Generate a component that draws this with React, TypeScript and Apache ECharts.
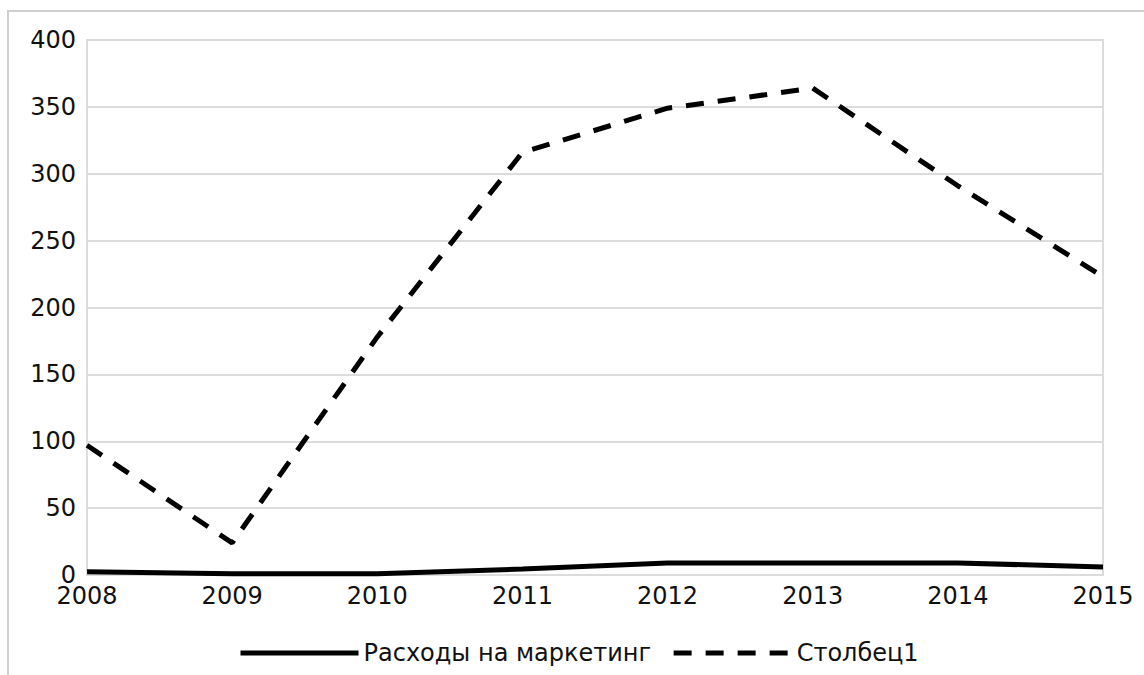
import React, { useEffect, useRef } from "react";
import * as echarts from "echarts";

const years = ["2008", "2009", "2010", "2011", "2012", "2013", "2014", "2015"];
const marketing = [2.5, 1, 1, 4.5, 9, 9, 9, 6];
const column1 = [97, 24, 178, 316, 349, 364, 291, 223];
const seriesNames = ["Расходы на маркетинг", "Столбец1"];

export default function App() {
  const ref = useRef<HTMLDivElement>(null);
  useEffect(() => {
    if (!ref.current) return;
    const chart = echarts.init(ref.current, null, { renderer: "svg" });
    const font = "DejaVu Sans";
    chart.setOption({
      animation: false,
      backgroundColor: "#fff",
      graphic: [
        {
          type: "rect",
          shape: { x: 8, y: 11, width: 1300, height: 800 },
          style: { fill: "none", stroke: "#cfcfcf", lineWidth: 2 },
          silent: true,
        },
      ],
      grid: {
        left: 87,
        right: 41,
        top: 40,
        bottom: 100,
        show: true,
        borderColor: "#dcdcdc",
        borderWidth: 2,
        backgroundColor: "transparent",
      },
      legend: {
        left: 233,
        top: 636,
        itemWidth: 118,
        itemHeight: 20,
        itemGap: 20,
        itemStyle: { opacity: 0, borderWidth: 0 },
        lineStyle: { width: 5 },
        textStyle: { fontFamily: font, fontSize: 24, color: "#111" },
        data: seriesNames,
      },
      xAxis: {
        type: "category",
        data: years,
        boundaryGap: false,
        axisLine: { show: false },
        axisTick: { show: false },
        splitLine: { show: false },
        axisLabel: {
          fontFamily: font,
          fontSize: 24,
          color: "#111",
          margin: 9,
          interval: 0,
        },
      },
      yAxis: {
        type: "value",
        min: 0,
        max: 400,
        interval: 50,
        axisLine: { show: false },
        axisTick: { show: false },
        splitLine: { lineStyle: { color: "#dcdcdc", width: 2 } },
        axisLabel: {
          fontFamily: font,
          fontSize: 24,
          color: "#111",
          margin: 11,
        },
      },
      series: [
        {
          name: seriesNames[0],
          type: "line",
          data: marketing,
          symbol: "none",
          lineStyle: { color: "#000", width: 5 },
          itemStyle: { color: "#000" },
        },
        {
          name: seriesNames[1],
          type: "line",
          data: column1,
          symbol: "none",
          lineStyle: { color: "#000", width: 5, type: [18, 14] },
          itemStyle: { color: "#000" },
        },
      ],
    });
    return () => chart.dispose();
  }, []);
  return (
    <div
      ref={ref}
      style={{ position: "absolute", left: 0, top: 0, width: 1144, height: 675 }}
    />
  );
}
